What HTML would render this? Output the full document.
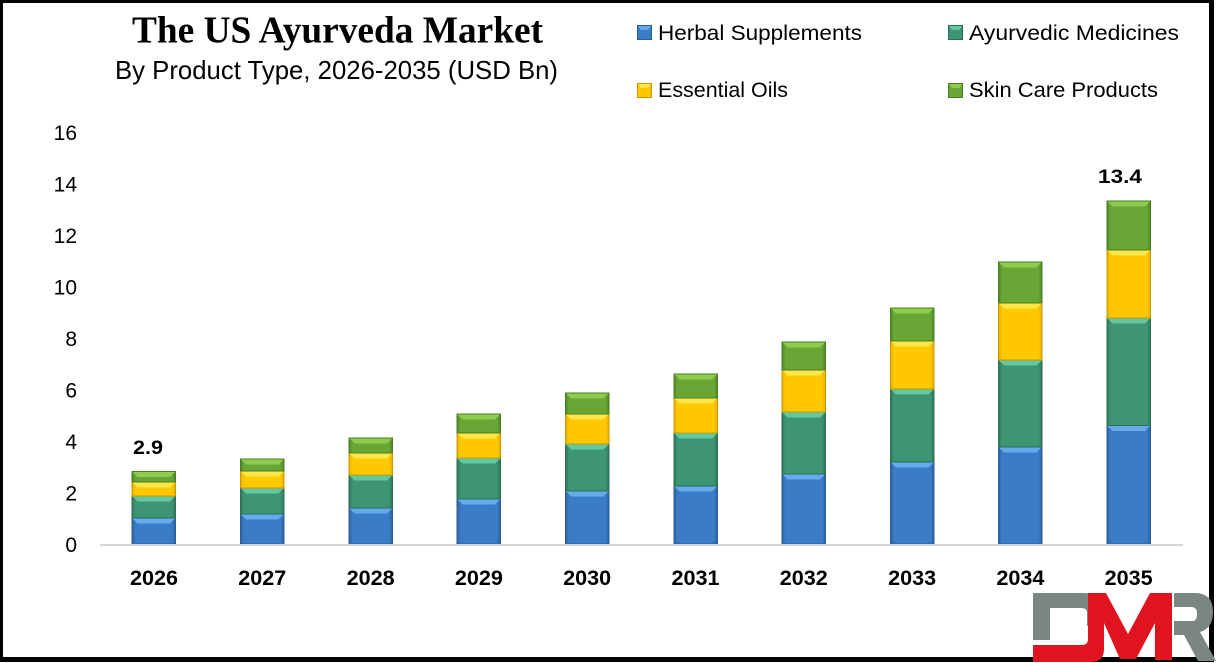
<!DOCTYPE html>
<html><head><meta charset="utf-8"><style>
html,body{margin:0;padding:0;background:#fff;}
svg{display:block;}
</style></head><body>
<svg width="1216" height="663" viewBox="0 0 1216 663" xmlns="http://www.w3.org/2000/svg">
<defs>
<linearGradient id="gB" x1="0" x2="1" y1="0" y2="0"><stop offset="0" stop-color="#2c619e"/><stop offset="0.08" stop-color="#3a7dc6"/><stop offset="0.92" stop-color="#3a7dc6"/><stop offset="1" stop-color="#2c619e"/></linearGradient>
<linearGradient id="gT" x1="0" x2="1" y1="0" y2="0"><stop offset="0" stop-color="#2e7558"/><stop offset="0.08" stop-color="#3d9573"/><stop offset="0.92" stop-color="#3d9573"/><stop offset="1" stop-color="#2e7558"/></linearGradient>
<linearGradient id="gY" x1="0" x2="1" y1="0" y2="0"><stop offset="0" stop-color="#e6ad00"/><stop offset="0.08" stop-color="#ffc800"/><stop offset="0.92" stop-color="#ffc800"/><stop offset="1" stop-color="#e6ad00"/></linearGradient>
<linearGradient id="gG" x1="0" x2="1" y1="0" y2="0"><stop offset="0" stop-color="#508727"/><stop offset="0.08" stop-color="#68a735"/><stop offset="0.92" stop-color="#68a735"/><stop offset="1" stop-color="#508727"/></linearGradient>
<g id="bB"><polygon points="0.5,0.5 43,0.5 38,5.5 5.5,5.5" fill="#64aaec"/></g>
<g id="bT"><polygon points="0.5,0.5 43,0.5 38,5.5 5.5,5.5" fill="#63c7a0"/></g>
<g id="bY"><polygon points="0.5,0.5 43,0.5 38,5.5 5.5,5.5" fill="#ffe64a"/></g>
<g id="bG"><polygon points="0.5,0.5 43,0.5 38,5.5 5.5,5.5" fill="#8ecc4f"/></g>
</defs>

<rect x="0" y="0" width="1216" height="663" fill="#fff"/>

<!-- Title -->
<text x="132" y="42.3" font-family="'Liberation Serif', serif" font-weight="bold" font-size="38.5" textLength="411" lengthAdjust="spacingAndGlyphs" fill="#000">The US Ayurveda Market</text>
<text x="115" y="79" font-family="'Liberation Sans', sans-serif" font-size="26" textLength="443" lengthAdjust="spacingAndGlyphs" fill="#000">By Product Type, 2026-2035 (USD Bn)</text>

<!-- Legend -->
<rect x="637.5" y="25.5" width="14" height="14" fill="url(#gB)" stroke="#2b5e96"/>
<polygon points="638,26 651,26 648,30 641,30" fill="#64aaec"/>
<text x="658" y="40" font-family="'Liberation Sans', sans-serif" font-size="21" textLength="204" lengthAdjust="spacingAndGlyphs" fill="#000">Herbal Supplements</text>
<rect x="948.5" y="25.5" width="14" height="14" fill="url(#gT)" stroke="#2d6e55"/>
<polygon points="949,26 962,26 959,30 952,30" fill="#63c7a0"/>
<text x="969" y="40" font-family="'Liberation Sans', sans-serif" font-size="21" textLength="210" lengthAdjust="spacingAndGlyphs" fill="#000">Ayurvedic Medicines</text>
<rect x="637.5" y="83.5" width="14" height="14" fill="url(#gY)" stroke="#c89a00"/>
<polygon points="638,84 651,84 648,88 641,88" fill="#ffe64a"/>
<text x="658" y="97" font-family="'Liberation Sans', sans-serif" font-size="21" textLength="130" lengthAdjust="spacingAndGlyphs" fill="#000">Essential Oils</text>
<rect x="948.5" y="83.5" width="14" height="14" fill="url(#gG)" stroke="#4a7d22"/>
<polygon points="949,84 962,84 959,88 952,88" fill="#8ecc4f"/>
<text x="969" y="97" font-family="'Liberation Sans', sans-serif" font-size="21" textLength="189" lengthAdjust="spacingAndGlyphs" fill="#000">Skin Care Products</text>

<!-- Y axis labels -->
<g font-family="'Liberation Sans', sans-serif" font-size="21" fill="#000" text-anchor="end">
<text x="77" y="140">16</text>
<text x="77" y="191.5">14</text>
<text x="77" y="243">12</text>
<text x="77" y="294.5">10</text>
<text x="77" y="346">8</text>
<text x="77" y="397.5">6</text>
<text x="77" y="449">4</text>
<text x="77" y="500.5">2</text>
<text x="77" y="552">0</text>
</g>

<!-- Bars -->
<g stroke-width="1">
<!-- 2026 -->
<rect x="132" y="518" width="43.5" height="26" fill="url(#gB)" stroke="#2b5e96"/><use href="#bB" x="132" y="518"/>
<rect x="132" y="496" width="43.5" height="22" fill="url(#gT)" stroke="#2d6e55"/><use href="#bT" x="132" y="496"/>
<rect x="132" y="482" width="43.5" height="14" fill="url(#gY)" stroke="#c89a00"/><use href="#bY" x="132" y="482"/>
<rect x="132" y="471.5" width="43.5" height="10.5" fill="url(#gG)" stroke="#4a7d22"/><use href="#bG" x="132" y="471.5"/>
<!-- 2027 -->
<rect x="240.5" y="514" width="43.5" height="30" fill="url(#gB)" stroke="#2b5e96"/><use href="#bB" x="240.5" y="514"/>
<rect x="240.5" y="488" width="43.5" height="26" fill="url(#gT)" stroke="#2d6e55"/><use href="#bT" x="240.5" y="488"/>
<rect x="240.5" y="471" width="43.5" height="17" fill="url(#gY)" stroke="#c89a00"/><use href="#bY" x="240.5" y="471"/>
<rect x="240.5" y="459" width="43.5" height="12" fill="url(#gG)" stroke="#4a7d22"/><use href="#bG" x="240.5" y="459"/>
<!-- 2028 -->
<rect x="349" y="508" width="43.5" height="36" fill="url(#gB)" stroke="#2b5e96"/><use href="#bB" x="349" y="508"/>
<rect x="349" y="475" width="43.5" height="33" fill="url(#gT)" stroke="#2d6e55"/><use href="#bT" x="349" y="475"/>
<rect x="349" y="453" width="43.5" height="22" fill="url(#gY)" stroke="#c89a00"/><use href="#bY" x="349" y="453"/>
<rect x="349" y="438" width="43.5" height="15" fill="url(#gG)" stroke="#4a7d22"/><use href="#bG" x="349" y="438"/>
<!-- 2029 -->
<rect x="457" y="499" width="43.5" height="45" fill="url(#gB)" stroke="#2b5e96"/><use href="#bB" x="457" y="499"/>
<rect x="457" y="458" width="43.5" height="41" fill="url(#gT)" stroke="#2d6e55"/><use href="#bT" x="457" y="458"/>
<rect x="457" y="433" width="43.5" height="25" fill="url(#gY)" stroke="#c89a00"/><use href="#bY" x="457" y="433"/>
<rect x="457" y="414" width="43.5" height="19" fill="url(#gG)" stroke="#4a7d22"/><use href="#bG" x="457" y="414"/>
<!-- 2030 -->
<rect x="565.5" y="491" width="43.5" height="53" fill="url(#gB)" stroke="#2b5e96"/><use href="#bB" x="565.5" y="491"/>
<rect x="565.5" y="444" width="43.5" height="47" fill="url(#gT)" stroke="#2d6e55"/><use href="#bT" x="565.5" y="444"/>
<rect x="565.5" y="414" width="43.5" height="30" fill="url(#gY)" stroke="#c89a00"/><use href="#bY" x="565.5" y="414"/>
<rect x="565.5" y="393" width="43.5" height="21" fill="url(#gG)" stroke="#4a7d22"/><use href="#bG" x="565.5" y="393"/>
<!-- 2031 -->
<rect x="674" y="486" width="43.5" height="58" fill="url(#gB)" stroke="#2b5e96"/><use href="#bB" x="674" y="486"/>
<rect x="674" y="433" width="43.5" height="53" fill="url(#gT)" stroke="#2d6e55"/><use href="#bT" x="674" y="433"/>
<rect x="674" y="398" width="43.5" height="35" fill="url(#gY)" stroke="#c89a00"/><use href="#bY" x="674" y="398"/>
<rect x="674" y="374" width="43.5" height="24" fill="url(#gG)" stroke="#4a7d22"/><use href="#bG" x="674" y="374"/>
<!-- 2032 -->
<rect x="782" y="474" width="43.5" height="70" fill="url(#gB)" stroke="#2b5e96"/><use href="#bB" x="782" y="474"/>
<rect x="782" y="412" width="43.5" height="62" fill="url(#gT)" stroke="#2d6e55"/><use href="#bT" x="782" y="412"/>
<rect x="782" y="370" width="43.5" height="42" fill="url(#gY)" stroke="#c89a00"/><use href="#bY" x="782" y="370"/>
<rect x="782" y="342" width="43.5" height="28" fill="url(#gG)" stroke="#4a7d22"/><use href="#bG" x="782" y="342"/>
<!-- 2033 -->
<rect x="890.5" y="462" width="43.5" height="82" fill="url(#gB)" stroke="#2b5e96"/><use href="#bB" x="890.5" y="462"/>
<rect x="890.5" y="389" width="43.5" height="73" fill="url(#gT)" stroke="#2d6e55"/><use href="#bT" x="890.5" y="389"/>
<rect x="890.5" y="341" width="43.5" height="48" fill="url(#gY)" stroke="#c89a00"/><use href="#bY" x="890.5" y="341"/>
<rect x="890.5" y="308" width="43.5" height="33" fill="url(#gG)" stroke="#4a7d22"/><use href="#bG" x="890.5" y="308"/>
<!-- 2034 -->
<rect x="998.5" y="447" width="43.5" height="97" fill="url(#gB)" stroke="#2b5e96"/><use href="#bB" x="998.5" y="447"/>
<rect x="998.5" y="360" width="43.5" height="87" fill="url(#gT)" stroke="#2d6e55"/><use href="#bT" x="998.5" y="360"/>
<rect x="998.5" y="303" width="43.5" height="57" fill="url(#gY)" stroke="#c89a00"/><use href="#bY" x="998.5" y="303"/>
<rect x="998.5" y="262" width="43.5" height="41" fill="url(#gG)" stroke="#4a7d22"/><use href="#bG" x="998.5" y="262"/>
<!-- 2035 -->
<rect x="1107" y="425.5" width="43.5" height="118.5" fill="url(#gB)" stroke="#2b5e96"/><use href="#bB" x="1107" y="425.5"/>
<rect x="1107" y="318" width="43.5" height="107.5" fill="url(#gT)" stroke="#2d6e55"/><use href="#bT" x="1107" y="318"/>
<rect x="1107" y="250" width="43.5" height="68" fill="url(#gY)" stroke="#c89a00"/><use href="#bY" x="1107" y="250"/>
<rect x="1107" y="201" width="43.5" height="49" fill="url(#gG)" stroke="#4a7d22"/><use href="#bG" x="1107" y="201"/>
</g>

<!-- Axis line -->
<line x1="100" y1="545" x2="1183" y2="545" stroke="#d6d6d6" stroke-width="2"/>

<!-- X labels -->
<g font-family="'Liberation Sans', sans-serif" font-weight="bold" font-size="21" fill="#000" text-anchor="middle">
<text x="154" y="585" textLength="48" lengthAdjust="spacingAndGlyphs">2026</text>
<text x="262.3" y="585" textLength="48" lengthAdjust="spacingAndGlyphs">2027</text>
<text x="370.6" y="585" textLength="48" lengthAdjust="spacingAndGlyphs">2028</text>
<text x="478.9" y="585" textLength="48" lengthAdjust="spacingAndGlyphs">2029</text>
<text x="587.2" y="585" textLength="48" lengthAdjust="spacingAndGlyphs">2030</text>
<text x="695.5" y="585" textLength="48" lengthAdjust="spacingAndGlyphs">2031</text>
<text x="803.8" y="585" textLength="48" lengthAdjust="spacingAndGlyphs">2032</text>
<text x="912.1" y="585" textLength="48" lengthAdjust="spacingAndGlyphs">2033</text>
<text x="1020.4" y="585" textLength="48" lengthAdjust="spacingAndGlyphs">2034</text>
<text x="1128.7" y="585" textLength="48" lengthAdjust="spacingAndGlyphs">2035</text>
</g>

<!-- Data labels -->
<g font-family="'Liberation Sans', sans-serif" font-weight="bold" font-size="19.5" fill="#000" text-anchor="middle">
<text x="148" y="454" textLength="30" lengthAdjust="spacingAndGlyphs">2.9</text>
<text x="1120" y="183" textLength="44" lengthAdjust="spacingAndGlyphs">13.4</text>
</g>

<!-- Border -->
<rect x="0" y="0" width="1214" height="3" fill="#000"/>
<rect x="0" y="0" width="3" height="662" fill="#000"/>
<rect x="1209" y="0" width="5" height="662" fill="#000"/>
<rect x="0" y="657" width="1214" height="5" fill="#000"/>

<!-- DMR logo -->
<path d="M1033,593 H1084 Q1101,593 1103,612 V626 H1087 V613 Q1087,608 1081,608 H1050 V640 H1033 Z" fill="#7a8584"/>
<path d="M1033,645 H1082 Q1088,645 1088,639 V593 H1106 L1128,634 L1150,593 H1172 V660 H1155 V623 L1136,659 H1120 L1104,623 V649 Q1104,662 1091,662 H1033 Z" fill="#e0141e"/>
<path d="M1174,593 H1195 Q1213,593 1213,612 Q1213,628 1200,632 L1216,661 H1198 L1184,635 H1174 V621 H1193 Q1197,621 1197,613 Q1197,607 1191,607 H1174 Z" fill="#7a8584"/>
</svg>
</body></html>
